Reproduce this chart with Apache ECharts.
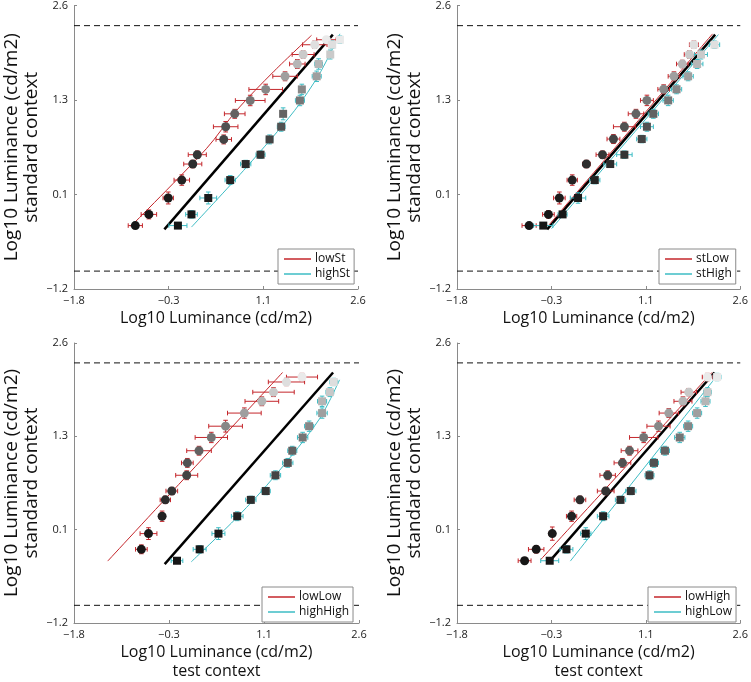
<!DOCTYPE html>
<html><head><meta charset="utf-8">
<script src="https://cdn.jsdelivr.net/npm/echarts@6/dist/echarts.min.js"></script>
<style>html,body{margin:0;padding:0;background:#fff}#c{width:751px;height:682px}</style>
</head><body><div id="c"></div>
<script>
// ---------- data ----------
const xTickValues = [-1.8, -1/3, 17/15, 2.6];
const yTickValues = [-1.2, 1/15, 4/3, 2.6];
const refLow = -0.96, refHigh = 2.33;   // dashed reference levels

// Panel 1: lowSt / highSt
const p1LowX  = [-0.85,-0.64,-0.34,-0.13,0.04,0.11,0.52,0.55,0.69,0.93,1.17,1.47,1.66,1.75,1.93,2.11];
const p1LowY  = [-0.35,-0.2,0.02,0.26,0.475,0.6,0.805,0.975,1.148,1.327,1.475,1.651,1.816,1.943,2.074,2.141];
const p1LowEx = [0.11,0.12,0.08,0.12,0.14,0.14,0.12,0.19,0.16,0.23,0.26,0.19,0.12,0.17,0.19,0.15];
const p1LowEy = [0.04,0.06,0.08,0.07,0.05,0.05,0.06,0.07,0.06,0.07,0.07,0.06,0.06,0.05,0.05,0.04];
const p1HighX = [-0.19,0.02,0.28,0.62,0.86,1.09,1.23,1.41,1.44,1.70,1.73,1.96,1.99,2.17,2.20,2.32];
const p1HighY = [-0.35,-0.2,0.02,0.26,0.475,0.6,0.805,0.975,1.148,1.327,1.475,1.651,1.816,1.943,2.074,2.141];
const p1HighEx= [0.14,0.09,0.13,0.08,0.08,0.07,0.05,0.06,0.03,0.07,0.03,0.07,0.06,0.04,0.04,0.04];
const p1HighEy= [0.03,0.05,0.08,0.06,0.05,0.05,0.06,0.06,0.08,0.07,0.07,0.07,0.07,0.06,0.05,0.05];
const p1FitLowX = [-0.92,0.25,0.72,1.3,1.88],  p1FitLowY = [-0.36,0.68,1.195,1.72,2.2];
const p1FitHighX= [0.02,0.88,1.62,2.0,2.32],   p1FitHighY= [-0.37,0.44,1.195,1.68,2.22];
const p1IdX = [-0.4,2.21];

// Panel 2: stLow / stHigh
const p2LowX  = [-0.68,-0.38,-0.21,-0.01,0.21,0.46,0.63,0.80,0.98,1.15,1.41,1.57,1.70,1.81,1.88];
const p2LowY  = [-0.35,-0.2,0.02,0.26,0.475,0.6,0.81,0.975,1.148,1.328,1.477,1.651,1.816,1.943,2.074];
const p2LowEx = [0.11,0.09,0.09,0.08,0.06,0.1,0.1,0.17,0.12,0.1,0.09,0.09,0.09,0.08,0.07];
const p2LowEy = [0.03,0.05,0.08,0.07,0.05,0.05,0.06,0.06,0.06,0.07,0.06,0.06,0.05,0.05,0.05];
const p2HighX = [-0.46,-0.16,0.08,0.34,0.58,0.80,1.07,1.15,1.25,1.48,1.61,1.79,1.93,1.99,2.20];
const p2HighY = [-0.35,-0.2,0.02,0.26,0.475,0.6,0.81,0.975,1.148,1.328,1.477,1.651,1.816,1.943,2.074];
const p2HighEx= [0.15,0.07,0.12,0.08,0.1,0.12,0.08,0.1,0.08,0.08,0.08,0.08,0.09,0.1,0.08];
const p2HighEy= [0.03,0.04,0.07,0.05,0.04,0.05,0.05,0.06,0.06,0.07,0.06,0.06,0.06,0.06,0.05];
const p2FitLowX = [-0.37,2.17],  p2FitLowY = [-0.34,2.22];
const p2FitHighX= [-0.33,2.26],  p2FitHighY= [-0.39,2.21];
const p2IdX = [-0.4,2.21];

// Panel 3: lowLow / highHigh
const p3LowX  = [-0.76,-0.65,-0.44,-0.39,-0.29,-0.06,-0.05,0.13,0.32,0.54,0.83,1.10,1.28,1.48,1.72];
const p3LowY  = [-0.2,0.013,0.249,0.471,0.591,0.805,0.973,1.138,1.318,1.471,1.649,1.809,1.933,2.071,2.138];
const p3LowEx = [0.09,0.13,0.05,0.08,0.09,0.17,0.09,0.19,0.25,0.26,0.26,0.26,0.32,0.28,0.24];
const p3LowEy = [0.06,0.08,0.07,0.05,0.05,0.06,0.06,0.06,0.07,0.08,0.07,0.06,0.06,0.05,0.05];
const p3HighX = [-0.21,0.14,0.43,0.72,0.93,1.16,1.31,1.50,1.57,1.73,1.83,2.03,2.03,2.15,2.21];
const p3HighY = [-0.355,-0.2,0.013,0.249,0.471,0.591,0.805,0.973,1.138,1.318,1.471,1.649,1.809,1.933,2.071];
const p3HighEx= [0.09,0.1,0.1,0.09,0.08,0.07,0.08,0.08,0.07,0.08,0.07,0.08,0.07,0.06,0.06];
const p3HighEy= [0.03,0.05,0.08,0.06,0.05,0.05,0.06,0.06,0.06,0.07,0.07,0.07,0.07,0.06,0.05];
const p3FitLowX = [-1.28,1.42],  p3FitLowY = [-0.36,2.2];
const p3FitHighX= [0.01,0.72,1.31,1.99,2.30], p3FitHighY= [-0.37,0.236,0.805,1.57,2.10];
const p3IdX = [-0.4,2.2];

// Panel 4: lowHigh / highLow
const p4LowX  = [-0.75,-0.57,-0.32,-0.02,0.11,0.51,0.54,0.77,0.88,1.10,1.33,1.49,1.71,1.80,2.09];
const p4LowY  = [-0.355,-0.2,0.013,0.249,0.471,0.591,0.805,0.973,1.138,1.318,1.471,1.649,1.809,1.933,2.138];
const p4LowEx = [0.1,0.12,0.05,0.08,0.09,0.13,0.12,0.13,0.13,0.22,0.18,0.15,0.14,0.12,0.08];
const p4LowEy = [0.03,0.05,0.09,0.07,0.05,0.05,0.06,0.06,0.06,0.07,0.07,0.06,0.06,0.05,0.05];
const p4HighX = [-0.36,-0.10,0.20,0.47,0.74,0.90,1.19,1.26,1.43,1.66,1.79,1.93,2.06,2.09,2.24];
const p4HighY = [-0.355,-0.2,0.013,0.249,0.471,0.591,0.805,0.973,1.138,1.318,1.471,1.649,1.809,1.933,2.138];
const p4HighEx= [0.14,0.1,0.08,0.09,0.08,0.08,0.07,0.07,0.07,0.08,0.07,0.07,0.07,0.06,0.06];
const p4HighEy= [0.03,0.05,0.08,0.06,0.05,0.05,0.06,0.06,0.06,0.07,0.07,0.07,0.07,0.06,0.05];
const p4FitLowX = [-0.50,2.16],  p4FitLowY = [-0.34,2.2];
const p4FitHighX= [-0.04,2.27],  p4FitHighY= [-0.36,2.19];
const p4IdX = [-0.38,2.2];

const names = [['lowSt','highSt'],['stLow','stHigh'],['lowLow','highHigh'],['lowHigh','highLow']];

// ---------- build ----------
const RED = '#c4262b', CYAN = '#3cbcc4';
const FONT = 'Open Sans';
const panels = [
  {low:[p1LowX,p1LowY,p1LowEx,p1LowEy], high:[p1HighX,p1HighY,p1HighEx,p1HighEy], fl:[p1FitLowX,p1FitLowY], fh:[p1FitHighX,p1FitHighY], id:p1IdX},
  {low:[p2LowX,p2LowY,p2LowEx,p2LowEy], high:[p2HighX,p2HighY,p2HighEx,p2HighEy], fl:[p2FitLowX,p2FitLowY], fh:[p2FitHighX,p2FitHighY], id:p2IdX},
  {low:[p3LowX,p3LowY,p3LowEx,p3LowEy], high:[p3HighX,p3HighY,p3HighEx,p3HighEy], fl:[p3FitLowX,p3FitLowY], fh:[p3FitHighX,p3FitHighY], id:p3IdX},
  {low:[p4LowX,p4LowY,p4LowEx,p4LowEy], high:[p4HighX,p4HighY,p4HighEx,p4HighEy], fl:[p4FitLowX,p4FitLowY], fh:[p4FitHighX,p4FitHighY], id:p4IdX}
];
const grids = [
  {left:74, top:5, width:284, height:284},
  {left:457, top:5, width:286, height:284},
  {left:74, top:343, width:285, height:285},
  {left:457, top:343, width:286, height:285}
];
const legendPos = [{left:278, top:249},{left:659, top:249},{left:262, top:587},{left:648, top:587}];

const fmt = v => (v < -1e-9 ? '\u2212' : '') + Math.abs(v).toFixed(1);
function grayFor(y){
  const t = Math.max(0, Math.min(1, (y + 0.35) / 2.49));
  const g = Math.round(22 + 212 * t * t);
  return 'rgb(' + g + ',' + g + ',' + g + ')';
}
function zip(a){ return a[0].map((_, i) => a.map(arr => arr[i])); }
function errBars(name, arr, color, gi){
  return {
    type:'custom', name:name+'_err', xAxisIndex:gi, yAxisIndex:gi, z:3, silent:true,
    data: zip(arr), encode:{x:0, y:1},
    renderItem:function(params, api){
      const x=api.value(0), y=api.value(1), ex=api.value(2), ey=api.value(3);
      const l=api.coord([x-ex,y]), r=api.coord([x+ex,y]), b=api.coord([x,y-ey]), t=api.coord([x,y+ey]);
      const c=2.3, st={stroke:color, lineWidth:1};
      const L=(x1,y1,x2,y2)=>({type:'line', shape:{x1,y1,x2,y2}, style:st});
      return {type:'group', children:[
        L(l[0],l[1],r[0],r[1]), L(b[0],b[1],t[0],t[1]),
        L(l[0],l[1]-c,l[0],l[1]+c), L(r[0],r[1]-c,r[0],r[1]+c),
        L(b[0]-c,b[1],b[0]+c,b[1]), L(t[0]-c,t[1],t[0]+c,t[1])
      ]};
    }
  };
}

const xAxes=[], yAxes=[], series=[], legends=[];
panels.forEach((p, i) => {
  const bottomRow = i >= 2;
  xAxes.push({
    type:'value', gridIndex:i, min:-1.8, max:2.6,
    name: bottomRow ? 'Log10 Luminance (cd/m2)\ntest context' : 'Log10 Luminance (cd/m2)',
    nameLocation:'middle', nameGap: 20,
    nameTextStyle:{fontFamily:FONT, fontSize:16, color:'#111', lineHeight:19, verticalAlign:'top'},
    axisLine:{show:true, onZero:false, lineStyle:{color:'#8a8a8a', width:1}},
    axisTick:{show:true, inside:true, length:3, customValues:xTickValues, lineStyle:{color:'#8a8a8a'}},
    axisLabel:{customValues:xTickValues, formatter:fmt, fontFamily:FONT, fontSize:11, color:'#222', margin:6},
    splitLine:{show:false}
  });
  yAxes.push({
    type:'value', gridIndex:i, min:-1.2, max:2.6,
    name:'Log10 Luminance (cd/m2)\nstandard context',
    nameLocation:'middle', nameGap: 32,
    nameTextStyle:{fontFamily:FONT, fontSize:19, color:'#111', lineHeight:20},
    axisLine:{show:true, onZero:false, lineStyle:{color:'#8a8a8a', width:1}},
    axisTick:{show:true, inside:true, length:3, customValues:yTickValues, lineStyle:{color:'#8a8a8a'}},
    axisLabel:{customValues:yTickValues, formatter:fmt, fontFamily:FONT, fontSize:11, color:'#222', margin:6},
    splitLine:{show:false}
  });
  const dash = {type:'line', xAxisIndex:i, yAxisIndex:i, showSymbol:false, silent:true, z:1,
    lineStyle:{color:'#111', width:1, type:[6,4]}};
  series.push(Object.assign({}, dash, {name:'refHigh'+i, data:[[-1.8,refHigh],[2.6,refHigh]]}));
  series.push(Object.assign({}, dash, {name:'refLow'+i, data:[[-1.8,refLow],[2.6,refLow]]}));
  series.push({type:'line', name:'identity'+i, xAxisIndex:i, yAxisIndex:i, showSymbol:false, silent:true, z:2,
    data:p.id.map(v=>[v,v]), lineStyle:{color:'#000', width:2.5}});
  series.push({type:'line', name:names[i][0], xAxisIndex:i, yAxisIndex:i, showSymbol:false, silent:true, z:2,
    smooth:0.3, data:zip(p.fl), itemStyle:{color:RED}, lineStyle:{color:RED, width:1}});
  series.push({type:'line', name:names[i][1], xAxisIndex:i, yAxisIndex:i, showSymbol:false, silent:true, z:2,
    smooth:0.3, data:zip(p.fh), itemStyle:{color:CYAN}, lineStyle:{color:CYAN, width:1}});
  series.push(errBars(names[i][0], p.low, RED, i));
  series.push(errBars(names[i][1], p.high, CYAN, i));
  series.push({type:'scatter', name:names[i][0]+'_pts', xAxisIndex:i, yAxisIndex:i, z:4, silent:true,
    symbol:'circle', symbolSize:9, data:zip(p.low.slice(0,2)),
    itemStyle:{opacity:1, color:params=>grayFor(params.value[1])}});
  series.push({type:'scatter', name:names[i][1]+'_pts', xAxisIndex:i, yAxisIndex:i, z:4, silent:true,
    symbol:'rect', symbolSize:8, data:zip(p.high.slice(0,2)),
    itemStyle:{opacity:1, color:params=>grayFor(params.value[1])}});
  legends.push({
    data:[names[i][0], names[i][1]], orient:'vertical', left:legendPos[i].left, top:legendPos[i].top,
    icon:'rect', itemWidth:27, itemHeight:1.5, itemGap:3, selectedMode:false,
    padding:[4,4,4,6], borderColor:'#8a8a8a', borderWidth:1, backgroundColor:'#fff',
    textStyle:{fontFamily:FONT, fontSize:12, color:'#111', padding:[0,0,0,-1]}
  });
});

const chart = echarts.init(document.getElementById('c'), null, {renderer:'canvas'});
chart.setOption({
  animation:false, backgroundColor:'#fff',
  grid:grids, xAxis:xAxes, yAxis:yAxes, series:series, legend:legends
});
</script></body></html>
